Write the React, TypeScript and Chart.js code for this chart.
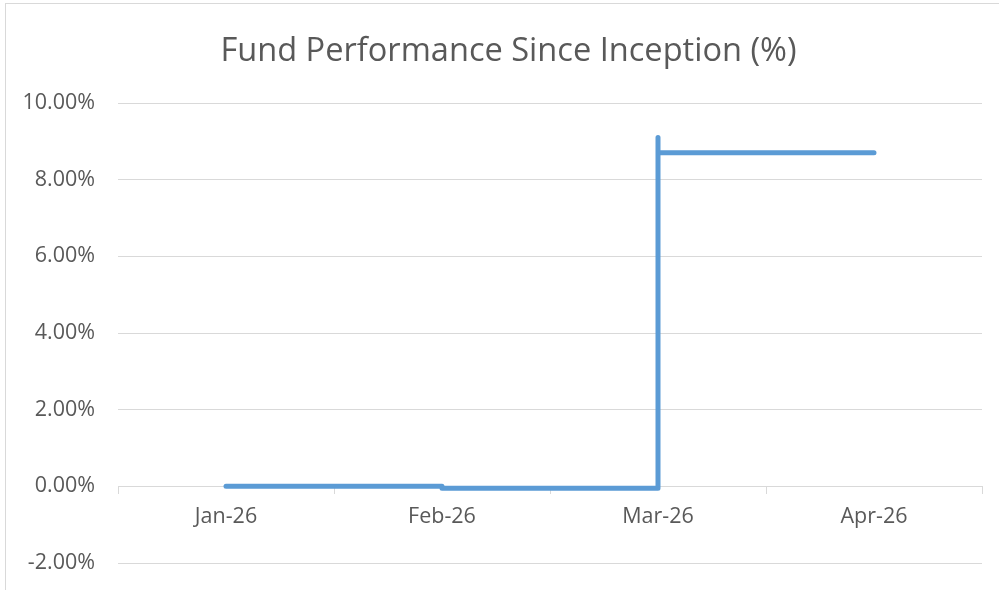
import React, { useEffect, useRef } from "react";
import { Chart, registerables } from "chart.js";

Chart.register(...registerables);

const title = "Fund Performance Since Inception (%)";
const categories = ["Jan-26", "Feb-26", "Mar-26", "Apr-26"];
const pointMonths = ["Jan-26", "Feb-26", "Feb-26", "Mar-26", "Mar-26", "Mar-26", "Mar-26", "Apr-26"];
const pointValues = [0, 0, -0.05, -0.05, 9.1, 8.32, 8.7, 8.7];
const yMin = -2;
const yMax = 10;
const yStep = 2;

const FONT = "'Open Sans', sans-serif";
const TEXT = "#595959";
const GRID = "#d9d9d9";

const widenYLabelArea = {
  id: "widenYLabelArea",
  afterLayout(chart: any) {
    const y = chart.scales.y;
    if (y) y.left = 0;
  },
};

export default function App() {
  const ref = useRef<HTMLCanvasElement | null>(null);
  useEffect(() => {
    if (!ref.current) return;
    const chart = new Chart(ref.current, {
      type: "line",
      data: {
        labels: categories,
        datasets: [
          {
            data: pointMonths.map((m, i) => ({ x: m, y: pointValues[i] })),
            borderColor: "#5b9bd5",
            backgroundColor: "#5b9bd5",
            borderWidth: 5,
            borderCapStyle: "round",
            borderJoinStyle: "round",
            pointRadius: 0,
            pointHoverRadius: 0,
            tension: 0,
            fill: false,
          },
        ],
      },
      plugins: [widenYLabelArea],
      options: {
        animation: false,
        responsive: true,
        maintainAspectRatio: false,
        layout: { padding: { left: 29, right: 30, top: 0, bottom: 41 } },
        plugins: {
          legend: { display: false },
          tooltip: { enabled: false },
          title: {
            display: true,
            text: title,
            color: TEXT,
            font: { family: FONT, size: 32.6, weight: "normal" },
            padding: { top: 28, bottom: 31.9 },
          },
        },
        scales: {
          x: {
            type: "category",
            position: { y: 0 } as any,
            offset: true,
            grid: {
              display: true,
              drawOnChartArea: false,
              drawTicks: true,
              tickLength: 7,
              offset: true,
              color: GRID,
            },
            border: { display: true, color: GRID, width: 1 },
            ticks: {
              color: TEXT,
              font: { family: FONT, size: 21.5 },
              padding: 11,
              maxRotation: 0,
            },
          },
          y: {
            min: yMin,
            max: yMax,
            afterFit: (s: any) => {
              s.width = 83;
            },
            ticks: {
              stepSize: yStep,
              color: TEXT,
              font: { family: FONT, size: 21.5 },
              padding: 23,
              callback: (v: any) => `${Number(v).toFixed(2)}%`,
            },
            grid: { color: GRID, lineWidth: 1, drawTicks: false },
            border: { display: false },
          },
        },
      },
    });
    return () => chart.destroy();
  }, []);

  return (
    <div style={{ position: "absolute", left: 0, top: 0, width: 999, height: 590, overflow: "hidden", background: "#fff" }}>
      <div
        style={{
          position: "absolute",
          left: 5,
          top: 3,
          width: 1006,
          height: 600,
          border: `1px solid ${GRID}`,
          background: "#fff",
        }}
      >
        <div style={{ position: "relative", width: 1006, height: 600 }}>
          <canvas ref={ref} />
        </div>
      </div>
    </div>
  );
}
